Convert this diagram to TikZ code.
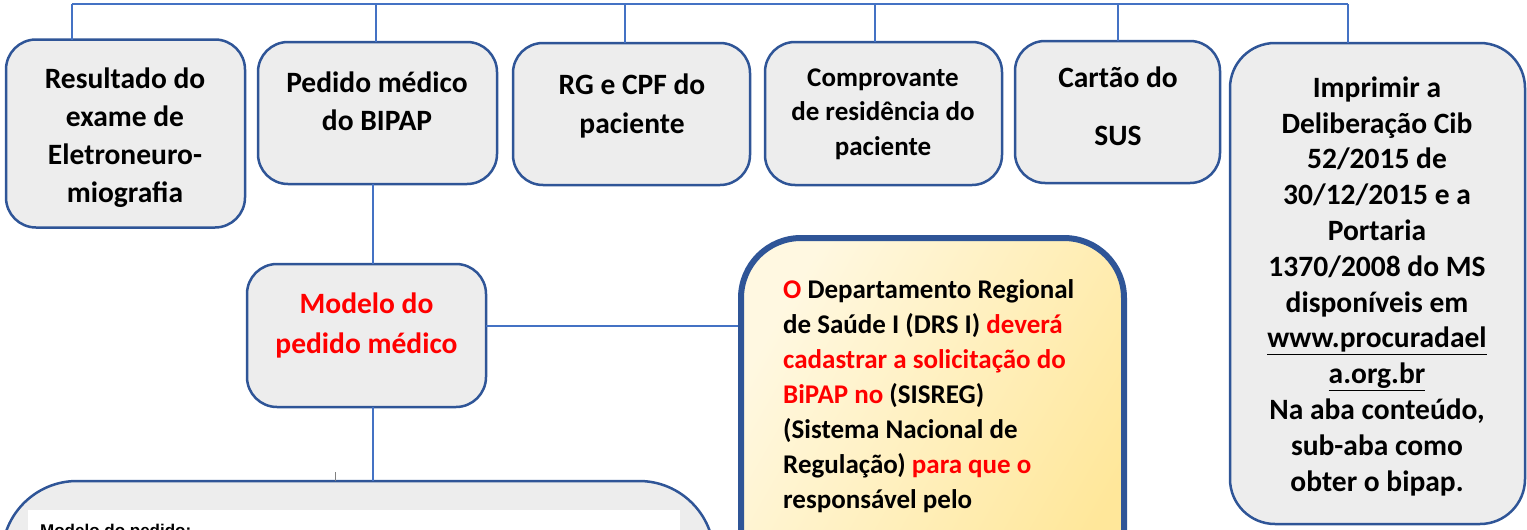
\documentclass[tikz,border=0pt]{standalone}
\usepackage{fontspec}
\setmainfont{Carlito}
\newfontfamily\arialfont{Liberation Sans}
\definecolor{bord}{HTML}{2F5597}
\definecolor{conn}{HTML}{4472C4}
\definecolor{boxfill}{HTML}{EDEDED}
\definecolor{yelA}{HTML}{FFF8E1}
\definecolor{yelB}{HTML}{FFE79A}
\definecolor{redtxt}{HTML}{FF0000}
\begin{document}
\begin{tikzpicture}[x=1pt,y=-1pt,
  card/.style={draw=bord, line width=2.5pt, fill=boxfill, rounded corners=#1, inner sep=0pt, outer sep=0pt},
  card/.default=30pt,
  link/.style={draw=conn, line width=1.3pt},
  lbl/.style 2 args={inner sep=0pt, align=center, anchor=base, font=\bfseries\fontsize{#1}{#2}\selectfont},
]
\useasboundingbox (0,0) rectangle (1527,530);
\clip (0,0) rectangle (1527,530);

% boxes
\node[card=30pt, minimum width=239pt, minimum height=188pt] (b1) at (125.5,133.5) {};
\node[card=30pt, minimum width=239pt, minimum height=142pt] (b2) at (377.5,113) {};
\node[card=30pt, minimum width=237pt, minimum height=142pt] (b3) at (631.5,114) {};
\node[card=30pt, minimum width=237pt, minimum height=143pt] (b4) at (883.5,113.5) {};
\node[card=30pt, minimum width=205pt, minimum height=142pt] (b5) at (1117.5,112) {};
\node[card=45pt, minimum width=295pt, minimum height=481pt] (b6) at (1377.5,283.5) {};
\node[card=30pt, minimum width=239pt, minimum height=143pt] (m) at (366.5,335.5) {};
\node[draw=bord, line width=6pt, rounded corners=60pt, left color=yelA, right color=yelB, shading angle=60,
      minimum width=383pt, minimum height=380pt, inner sep=0pt] (y) at (932.5,428) {};
\node[card=75pt, minimum width=712pt, minimum height=200pt] (low) at (358,581) {};
\node[fill=white, minimum width=652pt, minimum height=60pt, inner sep=0pt] (wh) at (354,540) {};

% texts (anchor = baseline of the last line)
\node[lbl={29.5pt}{38pt}] (t1) at (125,202) {Resultado do\\ exame de\\ Eletroneuro-\\ miografia};
\node[lbl={29.5pt}{38pt}] (t2) at (377,130) {Pedido médico\\ do BIPAP};
\node[lbl={29.5pt}{39pt}] (t3) at (632,133) {RG e CPF do\\ paciente};
\node[lbl={27pt}{34.5pt}] (t4) at (883,155) {Comprovante\\ de residência do\\ paciente};
\node[lbl={29.5pt}{58pt}] (t5) at (1118,145) {Cartão do\\ SUS};
\node[lbl={29.5pt}{35.8pt}] (t6) at (1377,491) {Imprimir a\\ Deliberação Cib\\ 52/2015 de\\ 30/12/2015 e a\\ Portaria\\ 1370/2008 do MS\\ disponíveis em\\ \underline{www.procuradael}\\ \underline{a.org.br}\\ Na aba conteúdo,\\ sub-aba como\\ obter o bipap.};
\node[lbl={29.5pt}{40pt}, text=redtxt] (tm) at (366.5,353) {Modelo do\\ pedido médico};
\node[lbl={27pt}{35pt}, align=left, anchor=base west] (ty) at (783,508) {%
  \textcolor{redtxt}{O} Departamento Regional\\
  de Saúde I (DRS I) \textcolor{redtxt}{deverá}\\
  \textcolor{redtxt}{cadastrar a solicitação do}\\
  \textcolor{redtxt}{BiPAP no} (SISREG)\\
  (Sistema Nacional de\\
  Regulação) \textcolor{redtxt}{para que o}\\
  responsável pelo};
\node[inner sep=0pt, anchor=base west, font=\arialfont\bfseries\fontsize{17pt}{17pt}\selectfont] (tw) at (40,536) {Modelo do pedido:};

% connectors
\coordinate (p1) at (72,4);
\coordinate (p2) at (376,4);
\coordinate (p3) at (625,4);
\coordinate (p4) at (875,4);
\coordinate (p5) at (1118,4);
\coordinate (p6) at (1348,4);
\coordinate (cx) at (373,0);
\coordinate (cy) at (0,326);
\coordinate (tick) at (335,472);
\draw[link] (p1) -- (p6);
\draw[link] (p1) -- (p1 |- b1.north);
\draw[link] (p2) -- (p2 |- b2.north);
\draw[link] (p3) -- (p3 |- b3.north);
\draw[link] (p4) -- (p4 |- b4.north);
\draw[link] (p5) -- (p5 |- b5.north);
\draw[link] (p6) -- (p6 |- b6.north);
\draw[link] (cx |- b2.south) -- (cx |- m.north);
\draw[link] (cx |- m.south) -- (cx |- low.north);
\draw[link] (m.east |- cy) -- (y.west |- cy);
\draw[draw=gray, line width=0.8pt] (tick) -- (tick |- low.north);
\end{tikzpicture}
\end{document}
